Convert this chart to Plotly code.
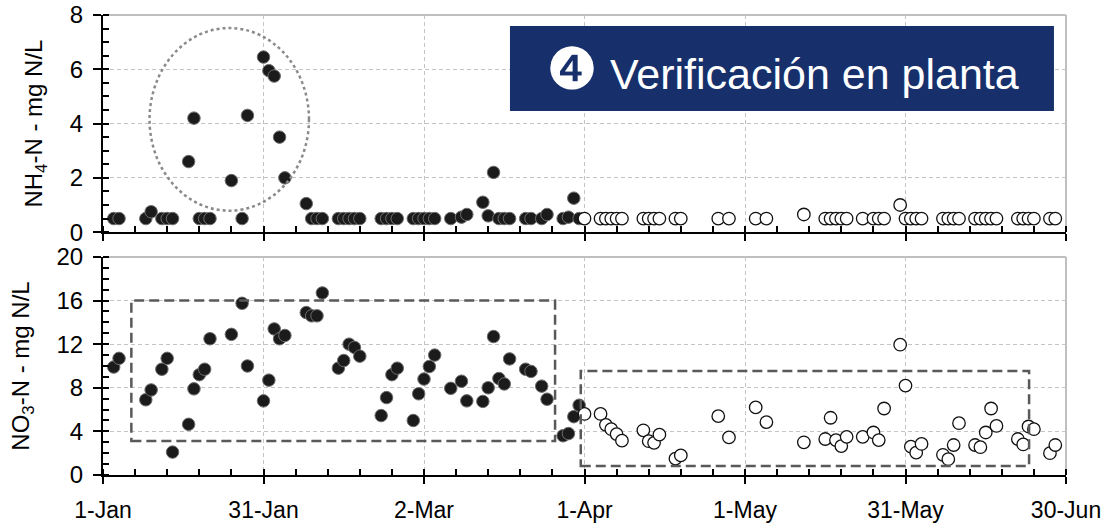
import pandas as pd
import plotly.graph_objects as go

BASE = pd.Timestamp("2023-01-01")

# Laboratory phase (filled markers): sampling day offsets from 1-Jan
day_lab = [2, 3, 8, 9, 11, 12, 13, 16, 17, 18, 19, 20, 24, 26, 27, 30, 31, 32, 33, 34,
           38, 39, 40, 41, 44, 45, 46, 47, 48, 52, 53, 54, 55, 58, 59, 60, 61, 62,
           65, 67, 68, 71, 72, 73, 74, 75, 76, 79, 80, 82, 83, 86, 87, 88, 89]
nh4_lab = [0.5, 0.5, 0.5, 0.75, 0.5, 0.5, 0.5, 2.6, 4.2, 0.5, 0.5, 0.5, 1.9, 0.5, 4.3,
           6.45, 5.95, 5.75, 3.5, 2.0, 1.05, 0.5, 0.5, 0.5, 0.5, 0.5, 0.5, 0.5, 0.5,
           0.5, 0.5, 0.5, 0.5, 0.5, 0.5, 0.5, 0.5, 0.5, 0.5, 0.55, 0.65,
           1.1, 0.6, 2.2, 0.5, 0.5, 0.5, 0.5, 0.5, 0.5, 0.65, 0.5, 0.55, 1.25, 0.5]
no3_lab = [9.9, 10.7, 6.9, 7.8, 9.7, 10.7, 2.1, 4.65, 7.9, 9.2, 9.7, 12.5, 12.9, 15.75, 10.0,
           6.8, 8.7, 13.4, 12.5, 12.8, 14.9, 14.6, 14.6, 16.7, 9.8, 10.5, 12.0, 11.7, 10.9,
           5.45, 7.1, 9.2, 9.8, 5.0, 7.45, 8.8, 9.95, 11.0, 7.95, 8.6, 6.8,
           6.75, 8.0, 12.7, 8.85, 8.35, 10.65, 9.7, 9.5, 8.15, 6.95, 3.6, 3.8, 5.35, 6.4]

# Plant verification phase (open markers)
day_plant = [90, 93, 94, 95, 96, 97, 101, 102, 103, 104, 107, 108, 115, 117, 122, 124, 131,
             135, 136, 137, 138, 139, 142, 144, 145, 146, 149, 150, 151, 152, 153,
             157, 158, 159, 160, 163, 164, 165, 166, 167, 171, 172, 173, 174, 177, 178]
nh4_plant = [0.5, 0.5, 0.5, 0.5, 0.5, 0.5, 0.5, 0.5, 0.5, 0.5, 0.5, 0.5, 0.5, 0.5, 0.5, 0.5, 0.65,
             0.5, 0.5, 0.5, 0.5, 0.5, 0.5, 0.5, 0.5, 0.5, 1.0, 0.5, 0.5, 0.5, 0.5,
             0.5, 0.5, 0.5, 0.5, 0.5, 0.5, 0.5, 0.5, 0.5, 0.5, 0.5, 0.5, 0.5, 0.5, 0.5]
no3_plant = [5.6, 5.6, 4.6, 4.2, 3.75, 3.15, 4.1, 3.1, 2.95, 3.7, 1.5, 1.8, 5.4, 3.45, 6.2, 4.85, 3.0,
             3.3, 5.25, 3.2, 2.65, 3.5, 3.5, 3.9, 3.2, 6.1, 11.95, 8.2, 2.6, 2.05, 2.85,
             1.85, 1.45, 2.75, 4.75, 2.75, 2.55, 3.9, 6.1, 4.5, 3.3, 2.8, 4.45, 4.2, 2.0, 2.75]

title_mark = "❹"
title_text = "Verificación en planta"
y_title_top = "NH<sub>4</sub>-N - mg N/L"
y_title_bot = "NO<sub>3</sub>-N - mg N/L"


def to_dates(days):
    return [BASE + pd.Timedelta(days=float(d)) for d in days]


FONT = "Liberation Sans, Arial, sans-serif"
DAY_MS = 86400000

filled = dict(size=12.5, color="#1b1b1b", line=dict(color="#6e6e6e", width=1))
opened = dict(size=12.5, color="white", line=dict(color="#111111", width=1.3))

fig = go.Figure()
fig.add_trace(go.Scatter(x=to_dates(day_lab), y=nh4_lab, mode="markers", marker=filled,
                         xaxis="x", yaxis="y", showlegend=False))
fig.add_trace(go.Scatter(x=to_dates(day_plant), y=nh4_plant, mode="markers", marker=opened,
                         xaxis="x", yaxis="y", showlegend=False))
fig.add_trace(go.Scatter(x=to_dates(day_lab), y=no3_lab, mode="markers", marker=filled,
                         xaxis="x2", yaxis="y2", showlegend=False))
fig.add_trace(go.Scatter(x=to_dates(day_plant), y=no3_plant, mode="markers", marker=opened,
                         xaxis="x2", yaxis="y2", showlegend=False))

xrange = [BASE, BASE + pd.Timedelta(days=180)]
xcommon = dict(
    type="date", range=xrange, tick0=BASE, dtick=30 * DAY_MS, tickformat="%-d-%b",
    showline=True, linecolor="black", linewidth=2, automargin=False,
    ticks="outside", ticklen=7, tickwidth=2, tickcolor="black",
    minor=dict(ticks="inside", ticklen=6, tickwidth=2, tickcolor="black",
               dtick=6 * DAY_MS, tick0=BASE, showgrid=False),
    showgrid=True, gridcolor="#c4c4c4", gridwidth=1, griddash="4px,3px",
    zeroline=False, tickfont=dict(family=FONT, size=23, color="black"),
    ticklabelstandoff=6,
)
ycommon = dict(
    showline=True, linecolor="black", linewidth=2, automargin=False,
    ticks="outside", ticklen=8, tickwidth=2, tickcolor="black",
    showgrid=True, gridcolor="#c4c4c4", gridwidth=1, griddash="4px,3px",
    zeroline=False, tickfont=dict(family=FONT, size=24, color="black"),
    ticklabelstandoff=5,
)

fig.update_layout(
    width=1117, height=523,
    margin=dict(l=103, r=51, t=15, b=48, autoexpand=False),
    paper_bgcolor="white", plot_bgcolor="white",
    xaxis=dict(xcommon, anchor="y", showticklabels=False),
    xaxis2=dict(xcommon, anchor="y2", matches="x"),
    yaxis=dict(ycommon, domain=[0.528, 1.0], range=[0, 8], dtick=2,
               minor=dict(ticks="inside", ticklen=6, tickwidth=2, tickcolor="black", dtick=0.5),
               title=dict(text=y_title_top, font=dict(family=FONT, size=24, color="black"), standoff=20)),
    yaxis2=dict(ycommon, domain=[0.0, 0.474], range=[0, 20], dtick=4,
                minor=dict(ticks="inside", ticklen=6, tickwidth=2, tickcolor="black", dtick=1),
                title=dict(text=y_title_bot, font=dict(family=FONT, size=24, color="black"), standoff=20)),
)

shapes = []
# gray top/right frame of each panel
for xr, yr in (("x domain", "y domain"), ("x2 domain", "y2 domain")):
    shapes.append(dict(type="line", xref=xr, yref=yr, x0=0, x1=1, y0=1, y1=1,
                       line=dict(color="#bfbfbf", width=2), layer="below"))
    shapes.append(dict(type="line", xref=xr, yref=yr, x0=1, x1=1, y0=0, y1=1,
                       line=dict(color="#bfbfbf", width=2), layer="below"))

# dotted ellipse around NH4 peak
shapes.append(dict(type="circle", xref="x", yref="y",
                   x0=BASE + pd.Timedelta(days=8.7), x1=BASE + pd.Timedelta(days=38.5),
                   y0=0.79, y1=7.52, line=dict(color="#8a8a8a", width=2.5, dash="dot")))
# dashed boxes on NO3 panel
shapes.append(dict(type="rect", xref="x2", yref="y2",
                   x0=BASE + pd.Timedelta(days=5.3), x1=BASE + pd.Timedelta(days=84.5),
                   y0=3.12, y1=16.0, line=dict(color="#595959", width=2.5, dash="10px,5px")))
shapes.append(dict(type="rect", xref="x2", yref="y2",
                   x0=BASE + pd.Timedelta(days=89.3), x1=BASE + pd.Timedelta(days=173.1),
                   y0=0.83, y1=9.54, line=dict(color="#595959", width=2.5, dash="10px,5px")))
# title box
shapes.append(dict(type="rect", xref="x domain", yref="y domain",
                   x0=0.4226, x1=0.9875, y0=0.558, y1=0.949,
                   fillcolor="#17306c", line=dict(width=0)))
fig.update_layout(shapes=shapes)

fig.add_annotation(xref="x domain", yref="y domain", x=0.706, y=0.7535,
                   text=f'<span style="font-size:58px">{title_mark}</span> {title_text}',
                   showarrow=False, xanchor="center", yanchor="middle",
                   font=dict(family=FONT, size=43, color="white"))

fig.write_html("out.html", config={"displayModeBar": False})
